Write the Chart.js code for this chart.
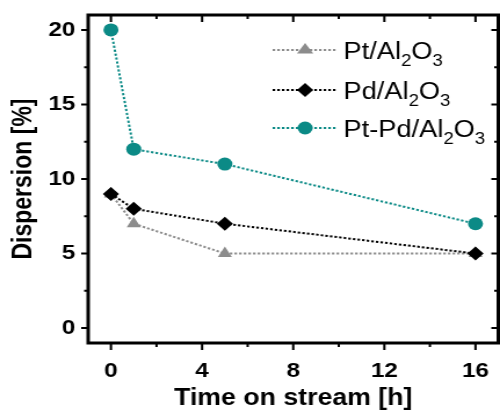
<!DOCTYPE html>
<html><head><meta charset="utf-8">
<script src="https://cdn.jsdelivr.net/npm/chart.js@4"></script>
<style>html,body{margin:0;padding:0;background:#fff;overflow:hidden}#c{display:block;width:500px;height:412px}</style>
</head><body><canvas id="c" width="431" height="412" style="width:500px;height:412px"></canvas>
<script>
const timeHours = [0, 1, 5, 16];
const ptAl2O3 = [9, 7, 5, 5];
const pdAl2O3 = [9, 8, 7, 5];
const ptPdAl2O3 = [20, 12, 11, 7];
const seriesNames = [["Pt/Al", "2", "O", "3"], ["Pd/Al", "2", "O", "3"], ["Pt-Pd/Al", "2", "O", "3"]];
const xTicks = [0, 4, 8, 12, 16];
const yTicks = [0, 5, 10, 15, 20];

const FONT = "'Liberation Sans', Arial, sans-serif";
const colors = ['#8c8c8c', '#000000', '#0b8a86'];
const shapes = ['triangle', 'rectRot', 'circle'];
const radii = [7, 7, 6.5];
const seriesData = [ptAl2O3, pdAl2O3, ptPdAl2O3];

const datasets = seriesData.map((vals, i) => ({
  label: seriesNames[i].join(''),
  data: timeHours.map((t, k) => ({x: t, y: vals[k]})),
  borderColor: colors[i],
  backgroundColor: colors[i],
  pointBackgroundColor: colors[i],
  pointBorderColor: colors[i],
  pointStyle: shapes[i],
  pointRadius: radii[i],
  pointBorderWidth: 0,
  borderWidth: 2,
  borderDash: [2.2, 1.8],
  tension: 0,
  order: 3 - i
}));

const frameTicks = {
  id: 'frameTicks',
  afterDraw(chart) {
    const ctx = chart.ctx, a = chart.chartArea;
    const xs = chart.scales.x, ys = chart.scales.y;
    ctx.save();
    ctx.strokeStyle = '#000';
    ctx.lineWidth = 2;
    for (let v = 0; v <= 16; v += 2) {
      const px = xs.getPixelForValue(v);
      const L = xTicks.includes(v) ? 7 : 4;
      ctx.beginPath();
      ctx.moveTo(px, a.bottom); ctx.lineTo(px, a.bottom + L);
      ctx.moveTo(px, a.top); ctx.lineTo(px, a.top + L);
      ctx.stroke();
    }
    for (let v = 0; v <= 20; v += 2.5) {
      const py = ys.getPixelForValue(v);
      const L = yTicks.includes(v) ? 6 : 3.5;
      ctx.beginPath();
      ctx.moveTo(a.left, py); ctx.lineTo(a.left - L, py);
      ctx.moveTo(a.right, py); ctx.lineTo(a.right - L, py);
      ctx.stroke();
    }
    ctx.lineWidth = 3;
    ctx.strokeRect(a.left, a.top, a.right - a.left, a.bottom - a.top);
    // legend
    const lx0 = a.left + 159, lx1 = a.left + 214, mx = a.left + 187, tx = a.left + 220;
    const rows = [a.top + 35, a.top + 75, a.top + 113];
    rows.forEach((ry, i) => {
      ctx.save();
      ctx.strokeStyle = colors[i];
      ctx.lineWidth = 2;
      ctx.setLineDash([2.2, 1.8]);
      ctx.beginPath(); ctx.moveTo(lx0, ry); ctx.lineTo(lx1, ry); ctx.stroke();
      ctx.restore();
      ctx.save();
      ctx.fillStyle = colors[i];
      const r = radii[i];
      ctx.beginPath();
      if (shapes[i] === 'circle') { ctx.arc(mx, ry, r, 0, Math.PI * 2); }
      else if (shapes[i] === 'rectRot') { ctx.moveTo(mx, ry - r); ctx.lineTo(mx + r, ry); ctx.lineTo(mx, ry + r); ctx.lineTo(mx - r, ry); ctx.closePath(); }
      else { const h = r * 1.5; ctx.moveTo(mx, ry - r); ctx.lineTo(mx + r, ry - r + h); ctx.lineTo(mx - r, ry - r + h); ctx.closePath(); }
      ctx.fill();
      ctx.restore();
      const parts = seriesNames[i];
      let x = tx;
      const base = ry + 9;
      ctx.fillStyle = '#000';
      ctx.textBaseline = 'alphabetic';
      ctx.textAlign = 'left';
      parts.forEach((p, k) => {
        const sub = k % 2 === 1;
        ctx.font = (sub ? '16px ' : '23.5px ') + FONT;
        ctx.fillText(p, x, sub ? base + 7 : base);
        x += ctx.measureText(p).width;
      });
    });
    ctx.restore();
  }
};

new Chart(document.getElementById('c'), {
  type: 'line',
  data: { datasets },
  options: {
    responsive: false,
    animation: false,
    devicePixelRatio: 1,
    layout: { autoPadding: false, padding: { top: 15, right: 1.5, left: 0, bottom: 0 } },
    plugins: { legend: { display: false }, tooltip: { enabled: false } },
    scales: {
      x: {
        type: 'linear', min: -1, max: 17,
        grid: { display: false, drawTicks: false },
        border: { display: false },
        ticks: {
          stepSize: 4, includeBounds: false, padding: 16, maxRotation: 0,
          color: '#000', font: { family: FONT, size: 21, weight: 'bold' },
          callback: v => xTicks.includes(v) ? String(v) : ''
        },
        title: { display: true, text: 'Time on stream [h]', color: '#000', font: { family: FONT, size: 23, weight: 'bold' }, padding: { top: 0, bottom: 0 } },
        afterFit: s => { s.height = 69; s.paddingLeft = 0; s.paddingRight = 0; }
      },
      y: {
        type: 'linear', min: -1, max: 21,
        grid: { display: false, drawTicks: false },
        border: { display: false },
        ticks: {
          stepSize: 5, includeBounds: false, padding: 11,
          color: '#000', font: { family: FONT, size: 21, weight: 'bold' },
          callback: v => yTicks.includes(v) ? String(v) : ''
        },
        title: { display: true, text: 'Dispersion [%]', color: '#000', font: { family: FONT, size: 23, weight: 'bold' }, padding: { top: 7, bottom: 0 } },
        afterFit: s => { s.width = 76; s.paddingTop = 0; s.paddingBottom = 0; }
      }
    }
  },
  plugins: [frameTicks]
});
</script>
</body></html>
